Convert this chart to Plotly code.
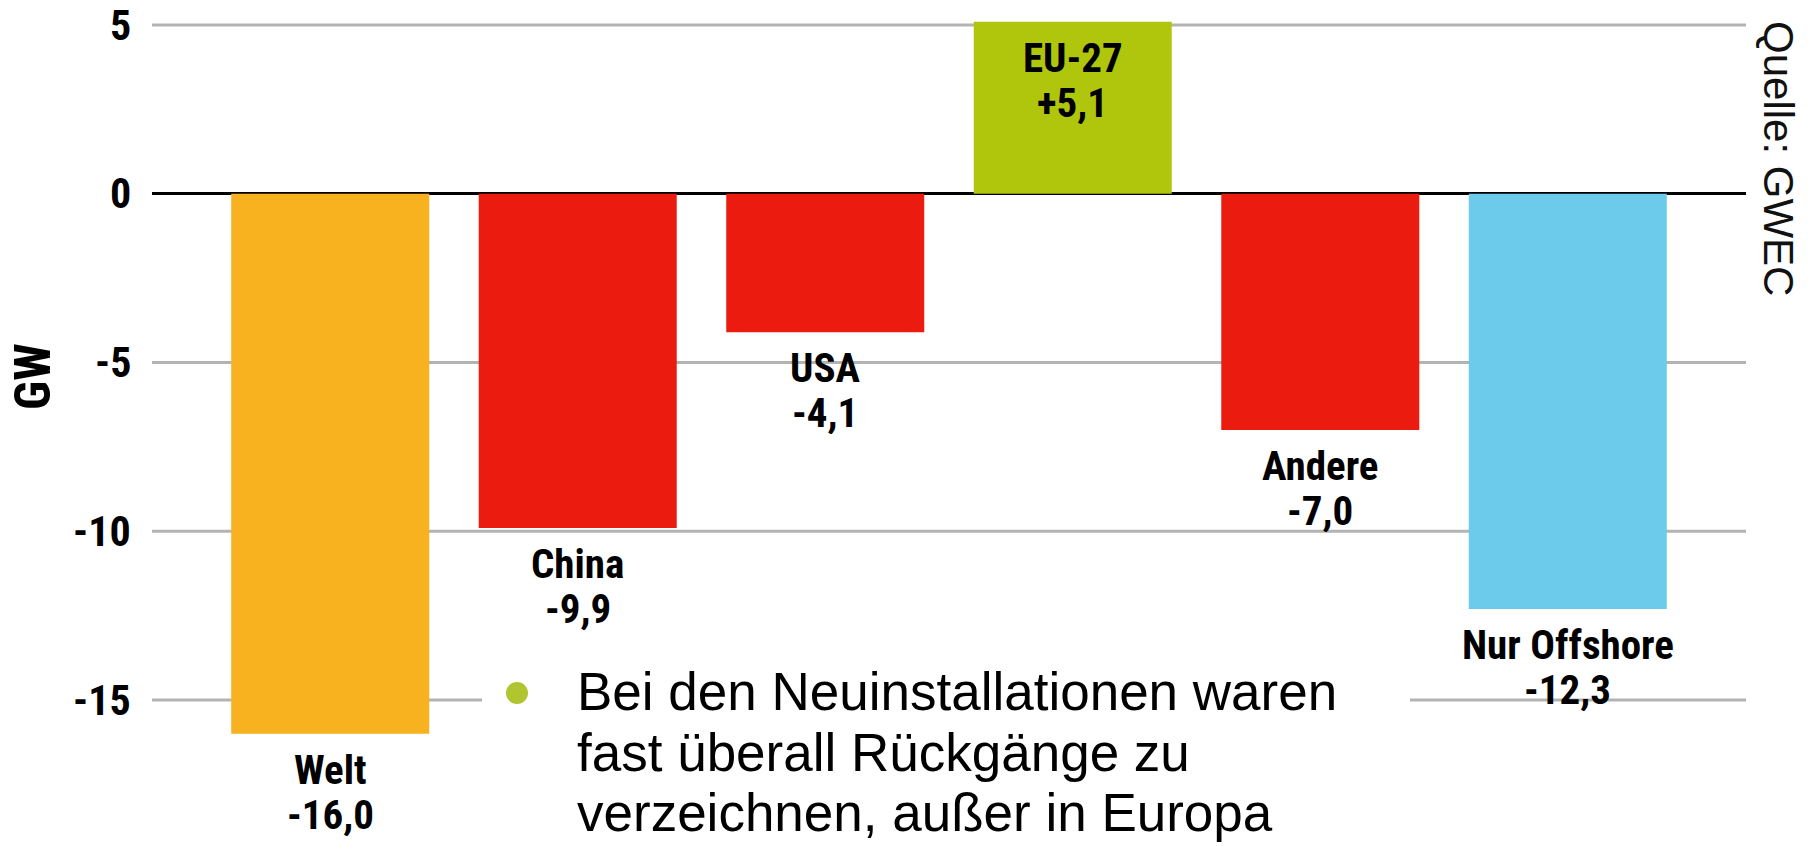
import plotly.graph_objects as go

# ---- data ----
categories = ["Welt", "China", "USA", "EU-27", "Andere", "Nur Offshore"]
values = [-16.0, -9.9, -4.1, 5.1, -7.0, -12.3]
bar_colors = ["#F9B21F", "#EC1B10", "#EC1B10", "#B0C60C", "#6CCBEA"]
bar_colors = ["#F9B21F", "#EC1B10", "#EC1B10", "#B0C60C", "#EC1B10", "#6CCBEA"]
y_ticks = [5, 0, -5, -10, -15]
y_tick_labels = ["5", "0", "-5", "-10", "-15"]
bullet_lines = [
    "Bei den Neuinstallationen waren",
    "fast überall Rückgänge zu",
    "verzeichnen, außer in Europa",
]
source_text = "Quelle: GWEC"
y_title = "GW"

OFF = 8  # browser body margin
W, H = 1810 - OFF, 846 - OFF
L, R, T, B = 152 - OFF, 64, 0, 0
PW = W - L - R

COND = "Roboto Condensed, Liberation Sans Narrow, DejaVu Sans Condensed, sans-serif"
REG = "Liberation Sans, Arial, sans-serif"


def fmt(v):
    return f"{v:+.1f}".replace(".", ",")


def px_x(p):  # reference pixel -> paper x
    return (p - OFF - L) / PW


def px_y(p):  # reference pixel -> paper y
    return 1 - (p - OFF) / H


fig = go.Figure()
fig.add_trace(go.Bar(
    x=categories, y=values,
    marker=dict(color=bar_colors, line=dict(width=0)),
    hoverinfo="x+y",
))

shapes = []
grid_style = dict(color="#B3B3B3", width=3)
for t in y_ticks:
    if t == 0:
        continue
    if t == -15:
        segs = [(0, px_x(482)), (px_x(1410), 1)]
    else:
        segs = [(0, 1)]
    for a, b in segs:
        shapes.append(dict(type="line", xref="paper", yref="y", x0=a, x1=b,
                           y0=t, y1=t, line=grid_style, layer="below"))

# bullet dot
cx, cy, rr = 517, 693, 11
shapes.append(dict(type="circle", xref="paper", yref="paper",
                   x0=px_x(cx - rr), x1=px_x(cx + rr),
                   y0=px_y(cy + rr), y1=px_y(cy - rr),
                   fillcolor="#B0C530", line=dict(width=0)))

annotations = []
lab_font = dict(family=COND, size=41, color="black", weight="bold")
for c, v in zip(categories, values):
    annotations.append(dict(x=c, y=v, xref="x", yref="y", text=c,
                            showarrow=False, yanchor="middle", yshift=-36,
                            font=lab_font))
    annotations.append(dict(x=c, y=v, xref="x", yref="y", text=fmt(v),
                            showarrow=False, yanchor="middle", yshift=-81,
                            font=lab_font))

for line, yc in zip(bullet_lines, [691, 752, 812]):
    annotations.append(dict(x=px_x(575), y=px_y(yc), xref="paper", yref="paper",
                            text=line, showarrow=False, xanchor="left", yanchor="middle",
                            font=dict(family=REG, size=53, color="black")))

# tick label "5" sits at the very top edge -> draw the tick labels as annotations
for t, lab in zip(y_ticks, y_tick_labels):
    annotations.append(dict(x=0, y=t, xref="paper", yref="y", text=lab,
                            showarrow=False, xanchor="right", yanchor="middle",
                            xshift=-19,
                            font=dict(family=COND, size=42, color="black", weight="bold")))

annotations.append(dict(x=px_x(33), y=px_y(377), xref="paper", yref="paper",
                        text=y_title, showarrow=False, textangle=-90,
                        xanchor="center", yanchor="middle",
                        font=dict(family=COND, size=50, color="black", weight="bold")))
annotations.append(dict(x=px_x(1779), y=px_y(158), xref="paper", yref="paper",
                        text=source_text, showarrow=False, textangle=90,
                        xanchor="center", yanchor="middle",
                        font=dict(family=REG, size=42, color="#111111")))

px_per_unit = (700 - 25) / 20.0
top_px = 25 - OFF
y_top = 5 + top_px / px_per_unit
y_bot = 5 - (H - top_px) / px_per_unit

fig.update_layout(
    width=W, height=H,
    margin=dict(l=L, r=R, t=T, b=B),
    paper_bgcolor="white", plot_bgcolor="white",
    bargap=0.2,
    showlegend=False,
    xaxis=dict(type="category", range=[-0.72, 5.72], showticklabels=False,
               showgrid=False, zeroline=False, showline=False, fixedrange=True),
    yaxis=dict(range=[y_bot, y_top], tickvals=y_ticks, showticklabels=False,
               showgrid=False, zeroline=True, zerolinecolor="black", zerolinewidth=3,
               showline=False, ticks="", fixedrange=True),
    shapes=shapes,
    annotations=annotations,
)

fig.write_html("out.html")
